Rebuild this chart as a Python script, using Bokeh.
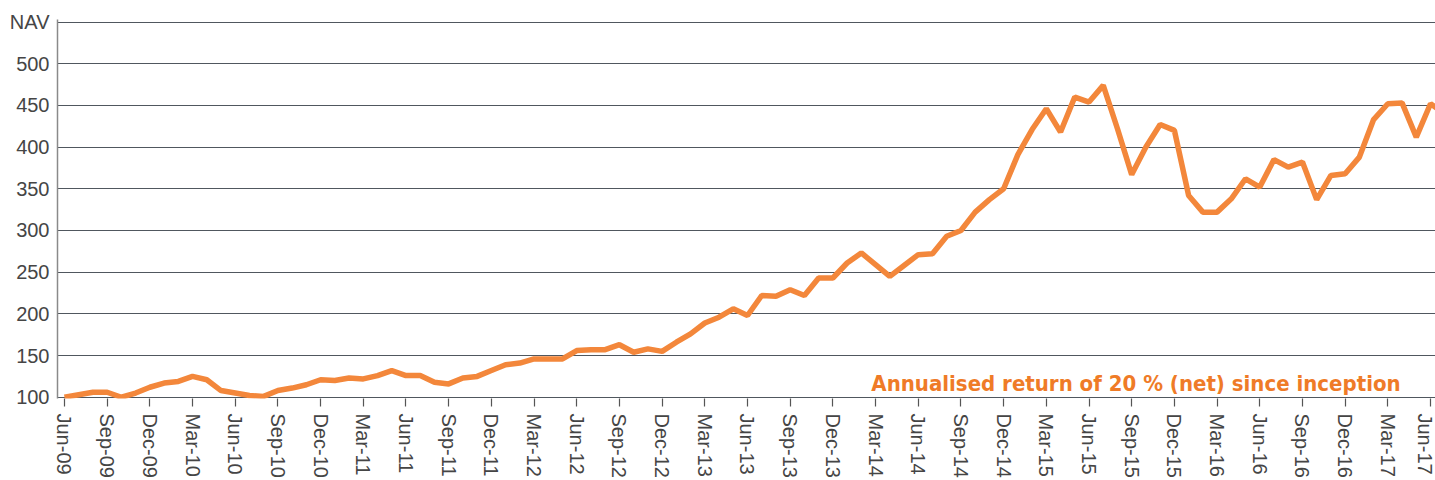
from bokeh.plotting import figure
from bokeh.models import FixedTicker, Range1d, Label
from bokeh.embed import file_html
from bokeh.resources import INLINE

# Monthly NAV, Jun-09 .. Jul-17
nav = [100, 103, 106, 106, 100, 105, 112, 117, 119, 125, 121, 108,
       105, 102, 101, 108, 111, 115, 121, 120, 123, 122, 126, 132,
       126, 126, 118, 116, 123, 125, 132, 139, 141, 146, 146, 146,
       156, 157, 157, 163, 154, 158, 155, 166, 176, 189, 196, 206,
       198, 222, 221, 229, 222, 243, 243, 261, 273, 259, 245, 258,
       271, 272, 293, 300, 322, 337, 350, 391, 421, 446, 418, 460,
       454, 474, 422, 367, 400, 427, 420, 342, 322, 322, 338, 362,
       352, 385, 376, 382, 337, 366, 368, 388, 433, 452, 453, 412,
       452, 440]
months = list(range(len(nav)))

tick_labels = ["Jun-09", "Sep-09", "Dec-09", "Mar-10", "Jun-10", "Sep-10", "Dec-10",
               "Mar-11", "Jun-11", "Sep-11", "Dec-11", "Mar-12", "Jun-12", "Sep-12",
               "Dec-12", "Mar-13", "Jun-13", "Sep-13", "Dec-13", "Mar-14", "Jun-14",
               "Sep-14", "Dec-14", "Mar-15", "Jun-15", "Sep-15", "Dec-15", "Mar-16",
               "Jun-16", "Sep-16", "Dec-16", "Mar-17", "Jun-17"]
tick_pos = [3 * i for i in range(len(tick_labels))]

y_ticks = [100, 150, 200, 250, 300, 350, 400, 450, 500, 550]
y_top_label = "NAV"
note = "Annualised return of 20 % (net) since inception"

LINE = "#F3873B"
TEXT = "#EF7B27"
GRID = "#50575e"
LABEL = "#454545"
FONT = "Liberation Sans"

p = figure(width=1435, height=480, output_backend="svg", toolbar_location=None,
           x_range=Range1d(-0.49, 96.35), y_range=Range1d(98.5, 553),
           min_border_left=57, min_border_right=0, min_border_top=19,
           min_border_bottom=80)
p.outline_line_color = None
p.background_fill_color = "white"

p.line(months, nav, line_color=LINE, line_width=5.5)

p.xgrid.visible = False
p.ygrid.ticker = FixedTicker(ticks=y_ticks)
p.ygrid.grid_line_color = GRID
p.ygrid.grid_line_width = 1.2

p.yaxis.ticker = FixedTicker(ticks=y_ticks)
p.yaxis.major_label_overrides = {550: y_top_label}
p.yaxis.major_tick_out = 0
p.yaxis.major_tick_in = 0
p.yaxis.minor_tick_line_color = None
p.yaxis.axis_line_color = "#8a8a8a"
p.yaxis.axis_line_width = 1.5
p.yaxis.major_label_standoff = 8
p.yaxis.major_label_text_font = FONT
p.yaxis.major_label_text_font_size = "20px"
p.yaxis.major_label_text_color = LABEL

p.xaxis.ticker = FixedTicker(ticks=tick_pos)
p.xaxis.major_label_overrides = {pos: lab for pos, lab in zip(tick_pos, tick_labels)}
p.xaxis.major_label_orientation = "vertical"
p.xaxis.axis_line_color = None
p.xaxis.major_tick_out = 8
p.xaxis.major_tick_in = 0
p.xaxis.major_tick_line_color = "#555555"
p.xaxis.major_tick_line_width = 1.2
p.xaxis.minor_tick_line_color = None
p.xaxis.major_label_standoff = 7
p.xaxis.major_label_text_font = FONT
p.xaxis.major_label_text_font_size = "20px"
p.xaxis.major_label_text_color = LABEL

p.add_layout(Label(x=93.9, y=116, text=note, text_align="right",
                   text_baseline="alphabetic", text_font="DejaVu Sans Condensed",
                   text_font_style="bold", text_font_size="22px", text_color=TEXT))

open("out.html", "w").write(file_html(p, INLINE))
